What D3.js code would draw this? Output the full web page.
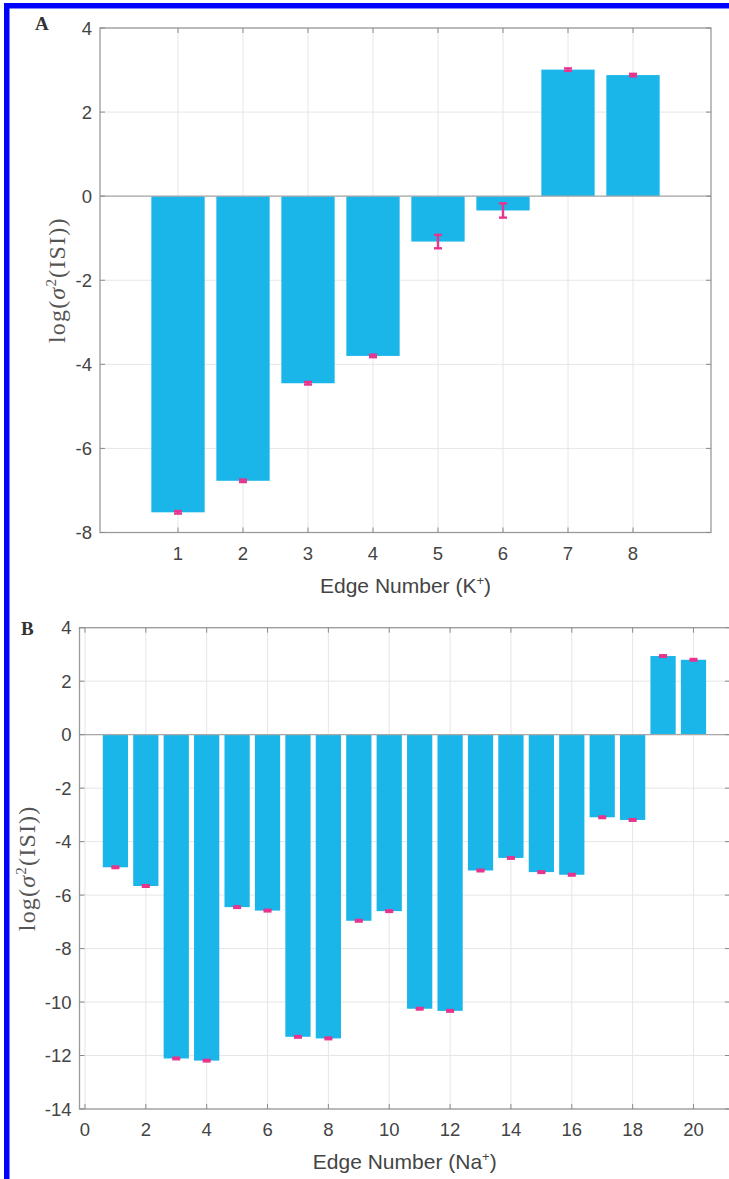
<!DOCTYPE html>
<html lang="en">
<head>
<meta charset="UTF-8">
<title>Edge variance</title>
<script src="https://cdn.jsdelivr.net/npm/d3@7"></script>
<style>
  body { margin: 0; background: #fff; }
  svg { display: block; }
</style>
</head>
<body>
<script>
// panel A: K+ edges
let kEdges = [1, 2, 3, 4, 5, 6, 7, 8];
let kValues = [-7.52, -6.77, -4.45, -3.80, -1.08, -0.34, 3.01, 2.88];
let kErrors = [0.03, 0.03, 0.03, 0.03, 0.16, 0.17, 0.03, 0.03];
let kXTicks = [1, 2, 3, 4, 5, 6, 7, 8];
let kYTicks = [-8, -6, -4, -2, 0, 2, 4];

// panel B: Na+ edges
let naEdges = d3.range(1, 21);
let naValues = [-4.96, -5.66, -12.11, -12.19, -6.45, -6.58, -11.30, -11.36, -6.96, -6.60,
                -10.25, -10.33, -5.08, -4.61, -5.14, -5.24, -3.09, -3.19, 2.94, 2.80];
let naErrors = [0.03, 0.03, 0.03, 0.03, 0.03, 0.03, 0.03, 0.03, 0.03, 0.03,
                0.03, 0.03, 0.03, 0.03, 0.03, 0.03, 0.03, 0.03, 0.03, 0.03];
let naXTicks = [0, 2, 4, 6, 8, 10, 12, 14, 16, 18, 20];
let naYTicks = [-14, -12, -10, -8, -6, -4, -2, 0, 2, 4];

let barColor = '#1ab6ea';
let errColor = '#e8348d';
let textColor = '#444';

let svg = d3.select('body').append('svg')
    .attr('width', 729)
    .attr('height', 1179);

svg.append('rect').attr('width', 729).attr('height', 1179).attr('fill', '#fff');

function drawPanel(p) {
    let x = d3.scaleLinear().domain(p.xlim).range([p.left, p.right]);
    let y = d3.scaleLinear().domain(p.ylim).range([p.bottom, p.top]);
    let g = svg.append('g');

    // grid
    g.selectAll('.gx').data(p.xTicks).enter().append('line')
        .attr('x1', d => x(d)).attr('x2', d => x(d))
        .attr('y1', p.top).attr('y2', p.bottom)
        .attr('stroke', '#e6e6e6').attr('stroke-width', 1);
    g.selectAll('.gy').data(p.yTicks).enter().append('line')
        .attr('x1', p.left).attr('x2', p.right)
        .attr('y1', d => y(d)).attr('y2', d => y(d))
        .attr('stroke', '#e6e6e6').attr('stroke-width', 1);

    // bars
    let bw = x(p.barWidth) - x(0);
    g.selectAll('.bar').data(p.values).enter().append('rect')
        .attr('x', (d, i) => x(p.edges[i]) - bw / 2)
        .attr('width', bw)
        .attr('y', d => Math.min(y(d), y(0)))
        .attr('height', d => Math.abs(y(d) - y(0)))
        .attr('fill', barColor);

    // baseline
    g.append('line')
        .attr('x1', p.left).attr('x2', p.right)
        .attr('y1', y(0)).attr('y2', y(0))
        .attr('stroke', '#a8a8a8').attr('stroke-width', 1.2);

    // error bars
    let eb = g.selectAll('.err').data(p.values).enter().append('g')
        .attr('stroke', errColor).attr('stroke-width', 2.4);
    eb.append('line')
        .attr('x1', (d, i) => x(p.edges[i])).attr('x2', (d, i) => x(p.edges[i]))
        .attr('y1', (d, i) => y(d - p.errors[i])).attr('y2', (d, i) => y(d + p.errors[i]));
    eb.append('line')
        .attr('x1', (d, i) => x(p.edges[i]) - 4).attr('x2', (d, i) => x(p.edges[i]) + 4)
        .attr('y1', (d, i) => y(d - p.errors[i])).attr('y2', (d, i) => y(d - p.errors[i]));
    eb.append('line')
        .attr('x1', (d, i) => x(p.edges[i]) - 4).attr('x2', (d, i) => x(p.edges[i]) + 4)
        .attr('y1', (d, i) => y(d + p.errors[i])).attr('y2', (d, i) => y(d + p.errors[i]));

    // box
    g.append('rect')
        .attr('x', p.left).attr('y', p.top)
        .attr('width', p.right - p.left).attr('height', p.bottom - p.top)
        .attr('fill', 'none').attr('stroke', '#9a9a9a').attr('stroke-width', 1.3);

    // inward ticks on all sides
    let tl = 5;
    g.selectAll('.tb').data(p.xTicks).enter().append('line')
        .attr('x1', d => x(d)).attr('x2', d => x(d))
        .attr('y1', p.bottom).attr('y2', p.bottom - tl)
        .attr('stroke', '#8a8a8a');
    g.selectAll('.tt').data(p.xTicks).enter().append('line')
        .attr('x1', d => x(d)).attr('x2', d => x(d))
        .attr('y1', p.top).attr('y2', p.top + tl)
        .attr('stroke', '#8a8a8a');
    g.selectAll('.tlft').data(p.yTicks).enter().append('line')
        .attr('x1', p.left).attr('x2', p.left + tl)
        .attr('y1', d => y(d)).attr('y2', d => y(d))
        .attr('stroke', '#8a8a8a');
    g.selectAll('.trt').data(p.yTicks).enter().append('line')
        .attr('x1', p.right).attr('x2', p.right - tl)
        .attr('y1', d => y(d)).attr('y2', d => y(d))
        .attr('stroke', '#8a8a8a');

    // tick labels
    g.selectAll('.xl').data(p.xTicks).enter().append('text')
        .attr('x', d => x(d)).attr('y', p.bottom + 27)
        .attr('text-anchor', 'middle')
        .attr('font-family', 'Liberation Sans, Arial, sans-serif')
        .attr('font-size', 18.5).attr('fill', textColor)
        .text(d => d);
    g.selectAll('.yl').data(p.yTicks).enter().append('text')
        .attr('x', p.left - 8).attr('y', d => y(d) + 6.5)
        .attr('text-anchor', 'end')
        .attr('font-family', 'Liberation Sans, Arial, sans-serif')
        .attr('font-size', 18.5).attr('fill', textColor)
        .text(d => d);

    // x label
    let xl = g.append('text')
        .attr('x', (p.left + p.right) / 2).attr('y', p.bottom + 60)
        .attr('text-anchor', 'middle')
        .attr('font-family', 'Liberation Sans, Arial, sans-serif')
        .attr('font-size', 21).attr('fill', textColor);
    xl.append('tspan').text('Edge Number (' + p.ion);
    xl.append('tspan').attr('dy', -8).attr('font-size', 13).text('+');
    xl.append('tspan').attr('dy', 8).text(')');

    // y label
    let yl = g.append('text')
        .attr('transform', 'translate(' + p.ylabelX + ',' + ((p.top + p.bottom) / 2) + ') rotate(-90)')
        .attr('text-anchor', 'middle')
        .attr('font-family', 'Liberation Serif, Times New Roman, serif')
        .attr('font-size', 24).attr('letter-spacing', 1.2).attr('fill', '#555');
    yl.append('tspan').text('log(');
    yl.append('tspan').attr('font-style', 'italic').text('σ');
    yl.append('tspan').attr('dy', -9).attr('font-size', 15).text('2');
    yl.append('tspan').attr('dy', 9).text('(ISI))');

    // panel letter
    svg.append('text')
        .attr('x', p.letterX).attr('y', p.letterY)
        .attr('font-family', 'Liberation Serif, Times New Roman, serif')
        .attr('font-size', 19).attr('font-weight', 'bold').attr('fill', '#333')
        .text(p.letter);
}

drawPanel({
    edges: kEdges, values: kValues, errors: kErrors,
    xTicks: kXTicks, yTicks: kYTicks,
    xlim: [-0.2, 9.2], ylim: [-8, 4], barWidth: 0.82,
    left: 100, right: 711, top: 28, bottom: 532.5,
    ion: 'K', ylabelX: 65, letter: 'A', letterX: 35, letterY: 30
});

drawPanel({
    edges: naEdges, values: naValues, errors: naErrors,
    xTicks: naXTicks, yTicks: naYTicks,
    xlim: [-0.18, 21.2], ylim: [-14, 4], barWidth: 0.83,
    left: 79.5, right: 730, top: 627.7, bottom: 1109,
    ion: 'Na', ylabelX: 35, letter: 'B', letterX: 21, letterY: 635
});

// blue frame
svg.append('rect').attr('x', 4).attr('y', 3).attr('width', 725).attr('height', 5.5).attr('fill', '#0000ff');
svg.append('rect').attr('x', 4).attr('y', 3).attr('width', 5.5).attr('height', 1176).attr('fill', '#0000ff');
</script>
</body>
</html>
